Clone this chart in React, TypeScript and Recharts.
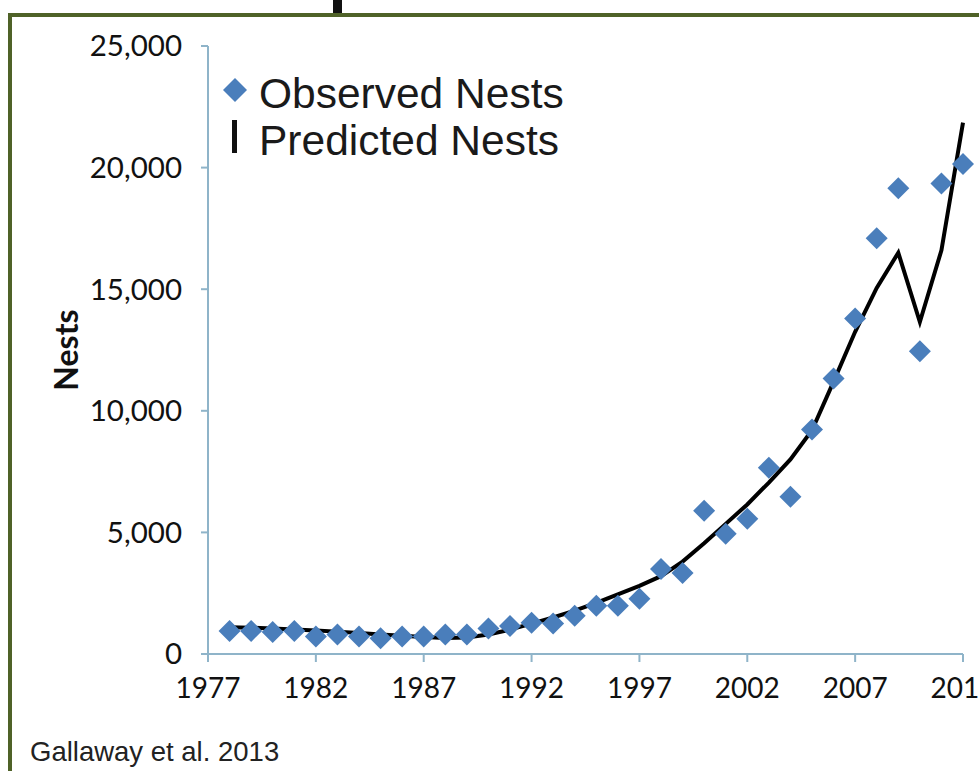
import React from 'react';
import { ComposedChart, Line, Scatter, XAxis, YAxis, Legend } from 'recharts';

const years = [
  1978, 1979, 1980, 1981, 1982, 1983, 1984, 1985, 1986, 1987, 1988, 1989,
  1990, 1991, 1992, 1993, 1994, 1995, 1996, 1997, 1998, 1999, 2000, 2001,
  2002, 2003, 2004, 2005, 2006, 2007, 2008, 2009, 2010, 2011, 2012,
];
const observedNests = [
  950, 950, 900, 950, 720, 800, 720, 650, 720, 720, 800, 800,
  1050, 1150, 1280, 1250, 1570, 1980, 1980, 2270, 3500, 3330, 5890, 4940,
  5560, 7660, 6470, 9230, 11330, 13800, 17100, 19150, 12450, 19350, 20150,
];
const predictedNests = [
  1100, 1080, 1050, 1010, 970, 920, 860, 800, 750, 700, 660, 680,
  800, 1000, 1250, 1500, 1780, 2100, 2450, 2800, 3200, 3800, 4550, 5350,
  6150, 7050, 8000, 9200, 11200, 13250, 15050, 16500, 13650, 16600, 21850,
];
const yearTicks = [1977, 1982, 1987, 1992, 1997, 2002, 2007, 2012];
const nestTicks = [0, 5000, 10000, 15000, 20000, 25000];

const data = years.map((year, i) => ({
  year,
  observed: observedNests[i],
  predicted: predictedNests[i],
}));

const BLUE = '#4A7EBB';
const AXIS = '#8fb4c9';
const xTickFont = { fontFamily: 'Lato, "Open Sans", sans-serif', fontSize: 28, fill: '#111' };
const yTickFont = { fontFamily: 'Lato, "Open Sans", sans-serif', fontSize: 29.5, fill: '#111' };

const Diamond = (props: any) => {
  const { cx, cy } = props;
  const r = 11;
  return (
    <polygon
      points={`${cx},${cy - r} ${cx + r},${cy} ${cx},${cy + r} ${cx - r},${cy}`}
      fill={BLUE}
    />
  );
};

const YLabel = (props: any) => {
  const { viewBox } = props;
  const x = viewBox.x + 57;
  const y = viewBox.y + viewBox.height / 2;
  return (
    <text
      x={x}
      y={y}
      transform={`rotate(-90, ${x}, ${y})`}
      textAnchor="middle"
      dominantBaseline="central"
      style={{ fontFamily: 'Lato, sans-serif', fontSize: 32, fontWeight: 700, fill: '#111' }}
    >
      Nests
    </text>
  );
};

const LegendBox = () => (
  <div style={{ fontFamily: '"Liberation Sans", Arial, sans-serif', fontSize: 42.5, color: '#1a1a1a', lineHeight: '47px' }}>
    <div style={{ display: 'flex', height: 47 }}>
      <svg width={37} height={47}>
        <polygon points="13,8 25,20 13,32 1,20" fill={BLUE} />
      </svg>
      <span>Observed Nests</span>
    </div>
    <div style={{ display: 'flex', height: 47 }}>
      <svg width={37} height={47}>
        <rect x={10} y={3} width={5} height={33} fill="#111" />
      </svg>
      <span>Predicted Nests</span>
    </div>
  </div>
);

export default function App() {
  return (
    <div style={{ position: 'absolute', left: 0, top: 0, width: 979, height: 771, overflow: 'hidden', background: '#fff' }}>
      <div style={{ position: 'absolute', left: 333, top: 0, width: 9, height: 14, background: '#111' }} />
      <div style={{ position: 'absolute', left: 8, top: 13, width: 1200, height: 1000, border: '4px solid #4F6228' }} />
      <div style={{ position: 'absolute', left: 0, top: 0 }}>
        <ComposedChart
          width={1100}
          height={771}
          data={data}
          margin={{ top: 46, right: 137, bottom: 57, left: 8 }}
        >
          <XAxis
            dataKey="year"
            type="number"
            domain={[1977, 2012]}
            ticks={yearTicks}
            interval={0}
            height={60}
            tickSize={8}
            tickMargin={16}
            stroke={AXIS}
            strokeWidth={2}
            tick={xTickFont}
          />
          <YAxis
            type="number"
            domain={[0, 25000]}
            ticks={nestTicks}
            interval={0}
            width={200}
            tickSize={7}
            tickMargin={19}
            stroke={AXIS}
            strokeWidth={2}
            tick={yTickFont}
            tickFormatter={(v: number) => v.toLocaleString('en-US')}
            label={<YLabel />}
          />
          <Legend
            layout="vertical"
            align="center"
            verticalAlign="middle"
            content={LegendBox}
            wrapperStyle={{ left: 222, top: 70, width: 'auto', height: 'auto' }}
          />
          <Scatter dataKey="observed" shape={Diamond} isAnimationActive={false} />
          <Line
            dataKey="predicted"
            type="linear"
            stroke="#000"
            strokeWidth={4}
            dot={false}
            isAnimationActive={false}
          />
        </ComposedChart>
      </div>
      <div
        style={{
          position: 'absolute',
          left: 30,
          top: 737,
          fontFamily: '"Liberation Sans", Arial, sans-serif',
          fontSize: 27.5,
          lineHeight: '30px',
          color: '#222',
        }}
      >
        Gallaway et al. 2013
      </div>
    </div>
  );
}
